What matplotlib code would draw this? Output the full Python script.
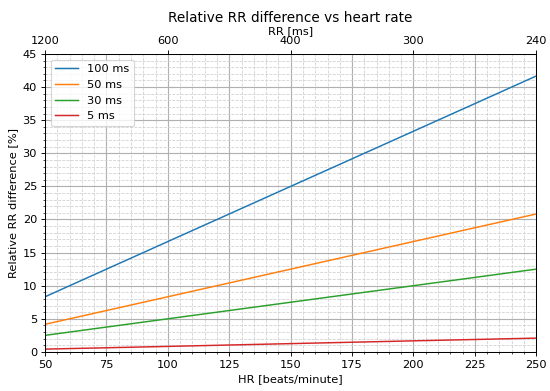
import numpy as np
import matplotlib
matplotlib.use("Agg")
import matplotlib.pyplot as plt
from matplotlib.ticker import MultipleLocator

hr = [50, 100, 150, 200, 250]
diff_100 = [8.33, 16.67, 25.0, 33.33, 41.67]
diff_50 = [4.17, 8.33, 12.5, 16.67, 20.83]
diff_30 = [2.5, 5.0, 7.5, 10.0, 12.5]
diff_5 = [0.42, 0.83, 1.25, 1.67, 2.08]
series = [("100 ms", diff_100), ("50 ms", diff_50), ("30 ms", diff_30), ("5 ms", diff_5)]

rr_ticks = [1200, 600, 400, 300, 240]

dpi = 82
fig, ax = plt.subplots(figsize=(550 / dpi, 391 / dpi), dpi=dpi)
for name, vals in series:
    ax.plot(hr, vals, label=name, lw=1.3)

ax.set_xlim(50, 250)
ax.set_ylim(0, 45)
ax.xaxis.set_major_locator(MultipleLocator(25))
ax.xaxis.set_minor_locator(MultipleLocator(5))
ax.yaxis.set_major_locator(MultipleLocator(5))
ax.yaxis.set_minor_locator(MultipleLocator(1))
ax.grid(which="major", color="#b0b0b0", lw=1.0)
ax.grid(which="minor", color="#d0d0d0", lw=0.7, ls="--")
ax.set_axisbelow(True)
ax.set_xlabel("HR [beats/minute]")
ax.set_ylabel("Relative RR difference [%]")
ax.legend(loc="upper left")

top = ax.twiny()
top.set_xlim(ax.get_xlim())
top.set_xticks([60000 / r for r in rr_ticks])
top.set_xticklabels([str(r) for r in rr_ticks])
top.set_xlabel("RR [ms]", labelpad=2)
ax.set_title("Relative RR difference vs heart rate", pad=3)

fig.subplots_adjust(left=0.082, right=0.975, top=0.862, bottom=0.1)
fig.savefig("out.png", dpi=dpi)
